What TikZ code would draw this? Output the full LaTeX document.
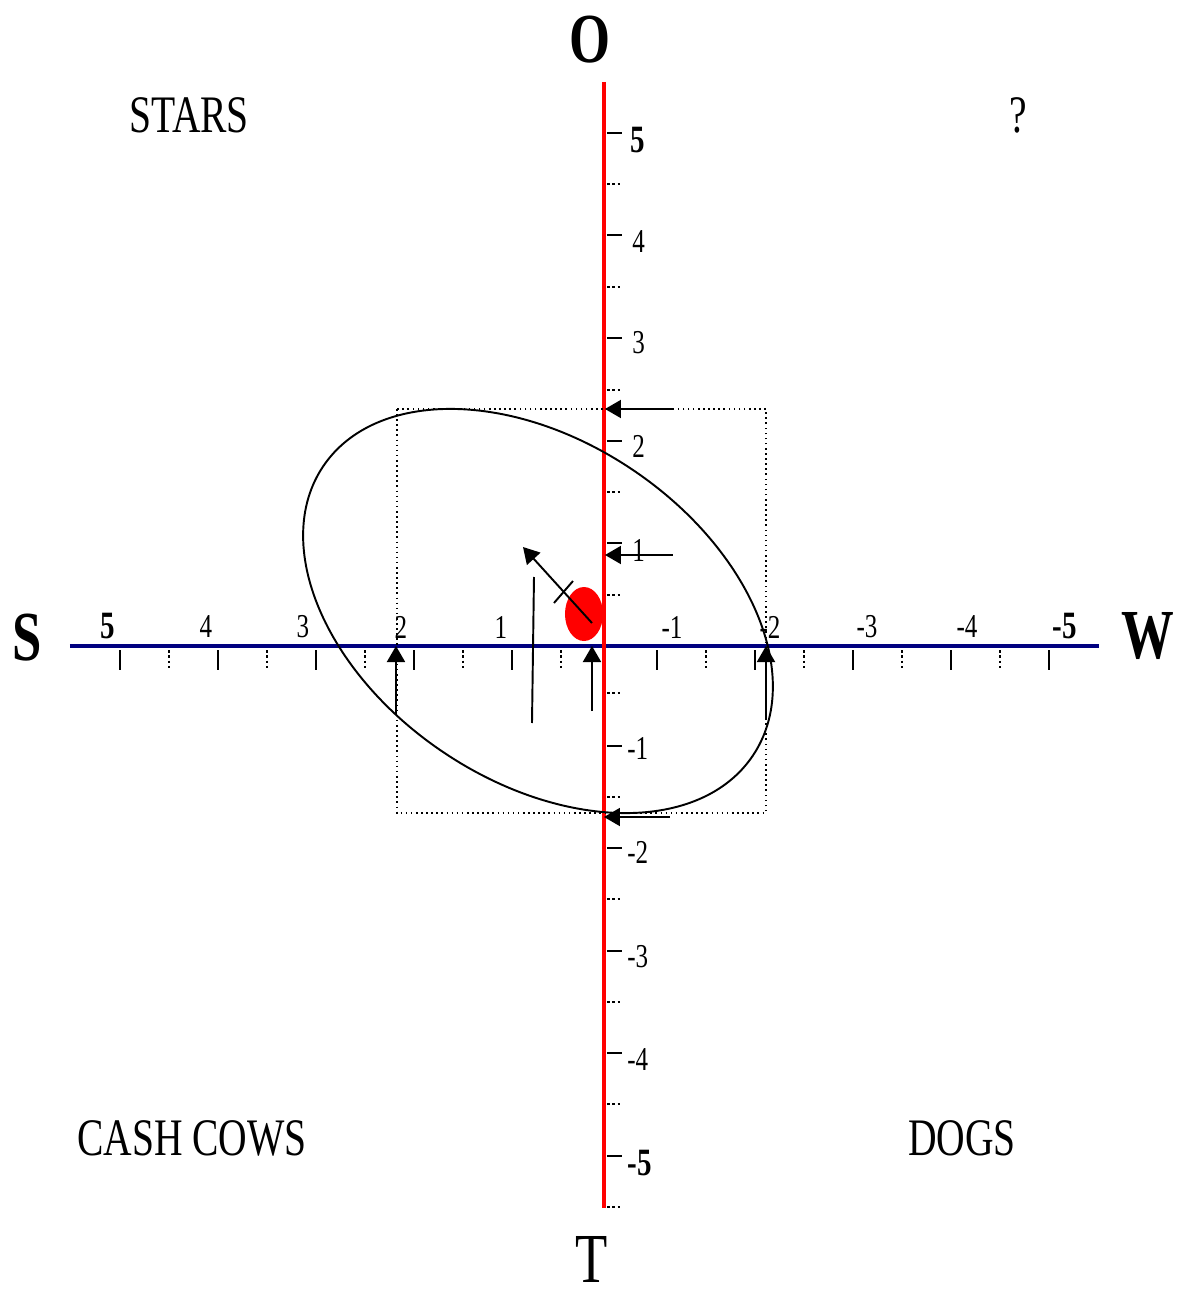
\documentclass[tikz,border=0pt]{standalone}
\usepackage{fontspec}
\setmainfont[FakeStretch=0.75]{Liberation Serif}
\usetikzlibrary{arrows.meta}
\definecolor{axisblue}{RGB}{0,0,128}

\begin{document}
\begin{tikzpicture}[>={Triangle[length=0.32cm,width=0.36cm]},
  tickmark/.style={line width=1.6pt},
  halftick/.style={line width=1.4pt,dash pattern=on 1.5pt off 1.5pt},
  numlabel/.style={font=\fontsize{19}{21}\selectfont,inner sep=0pt},
  fivelabel/.style={font=\fontsize{22}{24}\selectfont\bfseries,inner sep=0pt},
  biglabel/.style={font=\fontsize{40}{44}\selectfont\bfseries,inner sep=0pt},
  quadlabel/.style={font=\fontsize{30}{34}\selectfont,inner sep=0pt}]
  \useasboundingbox (-12.08,-12.88) rectangle (11.64,12.92);

  % axes
  \draw[axisblue,line width=2.8pt] (-10.68,0)--(9.90,0);
  \draw[red,line width=2pt] (0,11.28)--(0,-11.24);

  % ticks on the horizontal axis
  \foreach \x in {-9.68,-7.72,-5.76,-3.80,-1.84,1.06,3.02,4.98,6.94,8.90}
    \draw[tickmark] (\x,-0.08)--(\x,-0.48);
  \foreach \x in {-8.70,-6.74,-4.78,-2.82,-0.86,2.04,4.00,5.96,7.92}
    \draw[halftick] (\x,-0.08)--(\x,-0.48);
  \foreach \v/\x [count=\i] in {4/-7.96,3/-6.02,2/-4.06,1/-2.06,-1/1.36,-2/3.32,-3/5.26,-4/7.26}
    \node[numlabel] (hnum\i) at (\x,0.38) {\v};
  \node[fivelabel] (hfive) at (-9.92,0.40) {5};
  \node[fivelabel] (hmfive) at (9.22,0.40) {-5};

  % ticks on the vertical axis
  \foreach \y in {10.26,8.22,6.16,4.10,2.06,-2.00,-4.04,-6.10,-8.14,-10.20}
    \draw[tickmark] (0.06,\y)--(0.36,\y);
  \foreach \y in {9.24,7.18,5.12,3.08,1.02,-0.94,-3.02,-5.06,-7.12,-9.16,-11.22}
    \draw[halftick] (0.06,\y)--(0.36,\y);
  \foreach \v/\y [count=\i] in {4/8.08,3/6.06,2/4.00,1/1.92}
    \node[numlabel,anchor=west] (vnum\i) at (0.56,\y) {\v};
  \foreach \v/\y [count=\i] in {-1/-2.04,-2/-4.12,-3/-6.22,-4/-8.28}
    \node[numlabel,anchor=west] (vneg\i) at (0.46,\y) {\v};
  \node[fivelabel,anchor=west] (vfive) at (0.52,10.12) {5};
  \node[fivelabel,anchor=west] (vmfive) at (0.46,-10.34) {-5};

  % axis names and quadrants
  \node[biglabel] (north) at (-0.28,12.12) {O};
  \node[biglabel] (west) at (-11.54,0.16) {S};
  \node[biglabel] (east) at (10.88,0.20) {W};
  \node[biglabel,font=\fontsize{40}{44}\selectfont] (south) at (-0.24,-12.26) {T};
  \node[quadlabel] (stars) at (-8.30,10.62) {STARS};
  \node[quadlabel] (question) at (8.28,10.62) {?};
  \node[quadlabel] (cows) at (-8.24,-9.84) {CASH COWS};
  \node[quadlabel] (dogs) at (7.16,-9.84) {DOGS};

  % box and ellipse
  \coordinate (boxnw) at (-4.14,4.74);
  \coordinate (boxse) at (3.24,-3.34);
  \coordinate (centre) at (-1.32,0.70);
  \draw[dotted,line width=0.9pt] (boxnw) rectangle (boxse);
  \draw[line width=1.1pt,rotate around={-34:(centre)}] (centre) ellipse [x radius=5.18, y radius=3.4];
  \fill[red] (-0.40,0.64) ellipse [x radius=0.38, y radius=0.54];

  % arrows
  \begin{scope}[line width=1.1pt]
    \draw[->] (1.38,4.74)--(0.02,4.74);
    \draw[->] (1.38,1.82)--(0.02,1.82);
    \draw[->] (1.32,-3.42)--(0,-3.42);
    \draw[->] (-4.16,-1.36)--(-4.16,0);
    \draw[->] (3.24,-1.48)--(3.24,0);
    \draw[->] (-0.24,-1.30)--(-0.24,0);
    \draw[->] (-0.24,0.46)--(-1.62,1.98);
    \draw (-1.00,0.86)--(-0.62,1.30);
    \draw (-1.40,1.38)--(-1.44,-1.54);
  \end{scope}
\end{tikzpicture}
\end{document}
